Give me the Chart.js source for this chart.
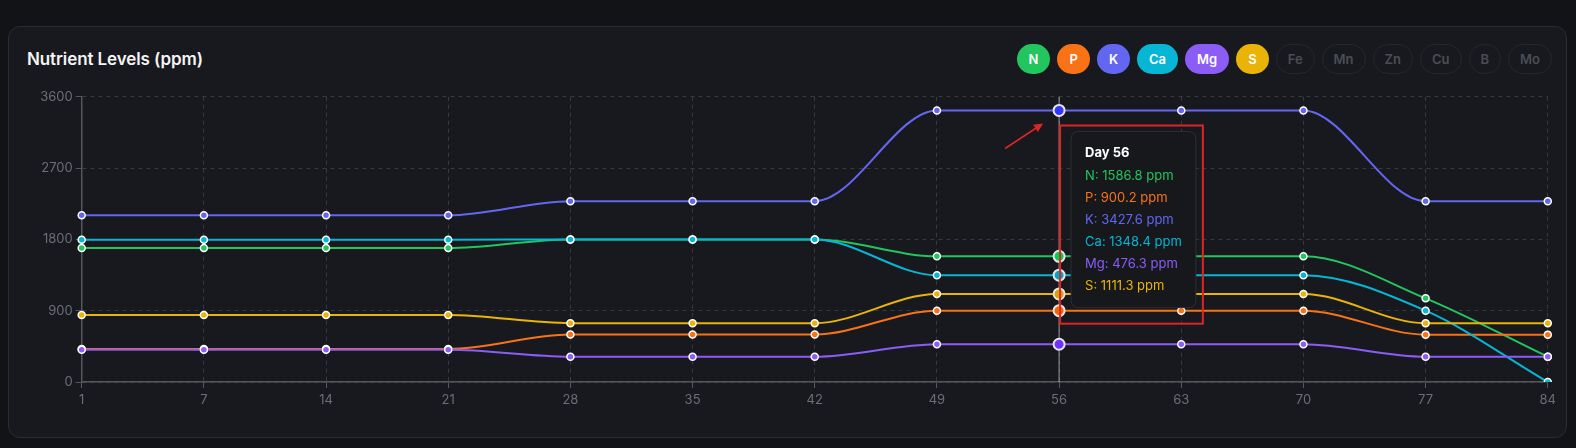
<!DOCTYPE html>
<html>
<head>
<meta charset="utf-8">
<script src="https://cdn.jsdelivr.net/npm/chart.js@4.4.1/dist/chart.umd.min.js"></script>
<style>
    html, body { margin: 0; padding: 0; }
    body {
        width: 1576px; height: 448px; position: relative; overflow: hidden;
        background: #121317; font-family: Inter, "Noto Sans", sans-serif;
    }
    .card {
        position: absolute; left: 8px; top: 26px; width: 1559px; height: 412px;
        box-sizing: border-box; background: #18191e; border: 1px solid #2b2c32; border-radius: 12px;
    }
    .title {
        position: absolute; left: 27px; top: 48px; line-height: 22px;
        font-size: 17px; font-weight: 600; color: #f4f4f5; letter-spacing: -0.1px;
    }
    .pills {
        position: absolute; right: 24px; top: 44px; display: flex; gap: 7px;
    }
    .pill {
        height: 30px; line-height: 28px; box-sizing: border-box; padding: 0 11px; min-width: 32px;
        border-radius: 15px; font-size: 13px; font-weight: 600; text-align: center;
        border: 1px solid transparent; color: #fff;
    }
    .pill.off { color: #4b4d55; border-color: #26272d; background: transparent; }
    .chartBox { position: absolute; left: 27px; top: 86px; width: 1533px; height: 327px; }
</style>
</head>
<body>
<div class="card"></div>
<div class="title">Nutrient Levels (ppm)</div>
<div class="pills" id="pills"></div>
<div class="chartBox"><canvas id="myChart"></canvas></div>

<script>
const days = ['1', '7', '14', '21', '28', '35', '42', '49', '56', '63', '70', '77', '84'];
const yTicks = [0, 900, 1800, 2700, 3600];

const nValues = [1690, 1690, 1690, 1690, 1800, 1800, 1800, 1586.8, 1586.8, 1586.8, 1586.8, 1056, 318];
const pValues = [418, 418, 418, 418, 600, 600, 600, 900.2, 900.2, 900.2, 900.2, 598, 598];
const kValues = [2104, 2104, 2104, 2104, 2283, 2283, 2283, 3427.6, 3427.6, 3427.6, 3427.6, 2283, 2283];
const caValues = [1797, 1797, 1797, 1797, 1800, 1800, 1800, 1348.4, 1348.4, 1348.4, 1348.4, 900, 0];
const mgValues = [406, 406, 406, 406, 318, 318, 318, 476.3, 476.3, 476.3, 476.3, 318, 318];
const sValues = [846, 846, 846, 846, 742, 742, 742, 1111.3, 1111.3, 1111.3, 1111.3, 742, 742];

const nutrients = ['N', 'P', 'K', 'Ca', 'Mg', 'S'];
const nutrientColors = ['#22c55e', '#f97316', '#6366f1', '#06b6d4', '#8b5cf6', '#eab308'];
const nutrientValues = [nValues, pValues, kValues, caValues, mgValues, sValues];
const offNutrients = ['Fe', 'Mn', 'Zn', 'Cu', 'B', 'Mo'];

const hoverDay = '56';
const cursorValue = 2050;

// legend pills
const pills = document.getElementById('pills');
nutrients.forEach((name, i) => {
    const el = document.createElement('div');
    el.className = 'pill';
    el.style.background = nutrientColors[i];
    el.textContent = name;
    pills.appendChild(el);
});
offNutrients.forEach((name) => {
    const el = document.createElement('div');
    el.className = 'pill off';
    el.textContent = name;
    pills.appendChild(el);
});

Chart.defaults.font.family = 'Inter, "Noto Sans", sans-serif';

Chart.Tooltip.positioners.dayCursor = function (elements, eventPosition) {
    if (!elements.length) return false;
    return { x: elements[0].element.x, y: eventPosition.y };
};

const crosshair = {
    id: 'crosshair',
    beforeDatasetsDraw(chart) {
        const active = chart.getActiveElements();
        if (!active.length) return;
        const { ctx, chartArea } = chart;
        const x = active[0].element.x;
        ctx.save();
        ctx.strokeStyle = 'rgba(255,255,255,0.55)';
        ctx.lineWidth = 1;
        ctx.beginPath();
        ctx.moveTo(x, chartArea.top);
        ctx.lineTo(x, chartArea.bottom);
        ctx.stroke();
        ctx.restore();
    }
};

// red highlight box + arrow around the tooltip
const highlight = {
    id: 'highlight',
    afterDraw(chart) {
        const tt = chart.tooltip;
        const active = chart.getActiveElements();
        if (!tt || !active.length || !tt.opacity) return;
        const ctx = chart.ctx;
        ctx.save();
        ctx.strokeStyle = '#dc2626';
        ctx.fillStyle = '#dc2626';
        ctx.lineWidth = 2;
        ctx.strokeRect(tt.x - 11, tt.y - 6, tt.width + 18, tt.height + 22);

        const top = active.reduce((a, b) => (b.element.y < a.element.y ? b : a));
        const tipX = top.element.x - 16, tipY = top.element.y + 13;
        const tailX = top.element.x - 54, tailY = top.element.y + 38;
        const ang = Math.atan2(tipY - tailY, tipX - tailX);
        ctx.lineWidth = 1.6;
        ctx.beginPath();
        ctx.moveTo(tailX, tailY);
        ctx.lineTo(tipX - 6 * Math.cos(ang), tipY - 6 * Math.sin(ang));
        ctx.stroke();
        ctx.beginPath();
        ctx.moveTo(tipX, tipY);
        ctx.lineTo(tipX - 10 * Math.cos(ang - 0.45), tipY - 10 * Math.sin(ang - 0.45));
        ctx.lineTo(tipX - 10 * Math.cos(ang + 0.45), tipY - 10 * Math.sin(ang + 0.45));
        ctx.closePath();
        ctx.fill();
        ctx.restore();
    }
};

const datasets = nutrients.map((name, i) => ({
    label: name,
    data: nutrientValues[i],
    borderColor: nutrientColors[i],
    backgroundColor: nutrientColors[i],
    pointBackgroundColor: nutrientColors[i],
    pointBorderColor: '#ffffff',
    pointBorderWidth: 1.5,
    pointRadius: 3.5,
    pointHoverRadius: 5.5,
    pointHoverBorderWidth: 2,
    borderWidth: 2,
    cubicInterpolationMode: 'monotone',
    fill: false,
    order: nutrients.length - i,
}));

const ctx = document.getElementById('myChart');
const chart = new Chart(ctx, {
    type: 'line',
    data: { labels: days, datasets },
    options: {
        responsive: true,
        maintainAspectRatio: false,
        animation: false,
        events: [],
        layout: { padding: { top: 8, right: 10, left: 0, bottom: 0 } },
        interaction: { mode: 'index', intersect: false },
        plugins: {
            legend: { display: false },
            tooltip: {
                position: 'dayCursor',
                xAlign: 'left',
                yAlign: 'center',
                caretSize: 0,
                caretPadding: 12,
                backgroundColor: '#17181c',
                borderColor: '#2e2f35',
                borderWidth: 1,
                cornerRadius: 8,
                padding: 14,
                displayColors: false,
                titleColor: '#ffffff',
                titleFont: { size: 13, weight: '700' },
                titleMarginBottom: 7,
                bodyFont: { size: 13 },
                bodySpacing: 6.4,
                itemSort: (a, b) => a.datasetIndex - b.datasetIndex,
                callbacks: {
                    title: (items) => `Day ${items[0].label}`,
                    label: (item) => `${item.dataset.label}: ${item.parsed.y.toFixed(1)} ppm`,
                    labelTextColor: (item) => item.dataset.borderColor,
                },
            },
        },
        scales: {
            x: {
                type: 'category',
                offset: false,
                grid: {
                    color: 'rgba(255,255,255,0.14)',
                    tickColor: '#55565c',
                    tickLength: 6,
                    tickBorderDash: [],
                },
                border: { color: '#55565c', width: 1.5, dash: [4, 4] },
                ticks: { color: '#6b6e76', font: { size: 13 }, padding: 4, maxRotation: 0, autoSkip: false },
                afterFit: (scale) => { scale.height = 31; },
            },
            y: {
                min: yTicks[0],
                max: yTicks[yTicks.length - 1],
                afterBuildTicks: (scale) => { scale.ticks = yTicks.map((v) => ({ value: v })); },
                grid: {
                    color: 'rgba(255,255,255,0.14)',
                    tickColor: '#55565c',
                    tickLength: 6,
                    tickBorderDash: [],
                },
                border: { color: '#55565c', width: 1.5, dash: [4, 4] },
                ticks: {
                    color: '#6b6e76',
                    font: { size: 13 },
                    padding: 3,
                    callback: (value) => String(value),
                },
                afterFit: (scale) => { scale.width = 54.7; },
            },
        },
    },
    plugins: [crosshair, highlight],
});

// show the hover state for day 56
const idx = days.indexOf(hoverDay);
const active = datasets.map((d, i) => ({ datasetIndex: i, index: idx }));
const xPos = chart.scales.x.getPixelForValue(idx);
const yPos = chart.scales.y.getPixelForValue(cursorValue);
chart.setActiveElements(active);
chart.tooltip.setActiveElements(active, { x: xPos, y: yPos });
chart.update();
</script>
</body>
</html>
